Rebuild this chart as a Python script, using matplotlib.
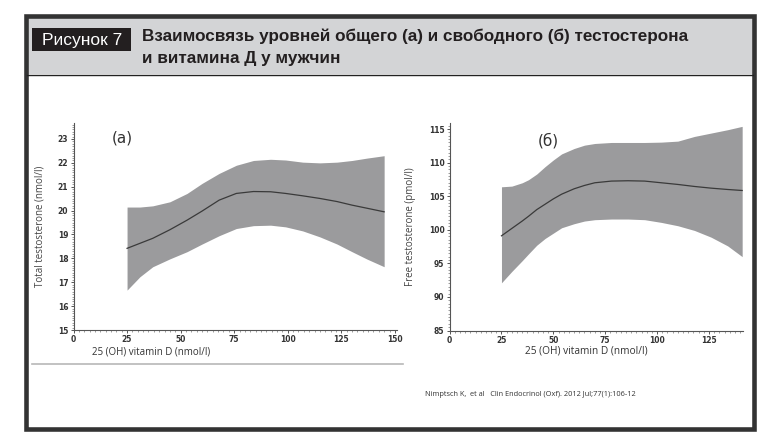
import matplotlib
matplotlib.use("Agg")
import matplotlib.pyplot as plt
from matplotlib.patches import Rectangle
from matplotlib.ticker import MultipleLocator

# panel (a): total testosterone vs 25(OH) vitamin D
vitd_a = [25, 31, 37, 45, 53, 60, 68, 76, 84, 92, 99, 107, 115, 123, 130, 137, 145]
total_t = [18.42, 18.63, 18.84, 19.2, 19.6, 19.98, 20.44, 20.72, 20.8, 20.79, 20.72,
           20.62, 20.51, 20.38, 20.23, 20.1, 19.95]
total_hi = [20.15, 20.15, 20.2, 20.37, 20.72, 21.14, 21.56, 21.9, 22.1, 22.15, 22.12,
            22.03, 22.0, 22.03, 22.1, 22.2, 22.3]
total_lo = [16.67, 17.23, 17.65, 17.98, 18.28, 18.6, 18.95, 19.25, 19.37, 19.39, 19.32,
            19.15, 18.9, 18.6, 18.28, 17.97, 17.65]

# panel (б): free testosterone vs 25(OH) vitamin D
vitd_b = [25, 30, 35, 38, 42, 46, 50, 54, 60, 65, 70, 78, 86, 94, 102, 110, 118, 126, 134, 141]
free_t = [99.1, 100.2, 101.3, 102.0, 103.0, 103.8, 104.6, 105.3, 106.1, 106.6, 107.0, 107.25,
          107.3, 107.25, 107.0, 106.75, 106.45, 106.2, 106.0, 105.85]
free_hi = [106.4, 106.5, 107.0, 107.45, 108.3, 109.4, 110.4, 111.3, 112.1, 112.6, 112.85, 113.0,
           113.0, 113.0, 113.05, 113.2, 113.9, 114.4, 114.9, 115.4]
free_lo = [92.1, 93.8, 95.4, 96.4, 97.7, 98.7, 99.5, 100.3, 100.9, 101.3, 101.5, 101.6,
           101.6, 101.5, 101.1, 100.6, 99.9, 98.9, 97.6, 96.0]

title_tag = "Рисунок 7"
title_line1 = "Взаимосвязь уровней общего (а) и свободного (б) тестостерона"
title_line2 = "и витамина Д у мужчин"
xlabel = "25 (OH) vitamin D (nmol/l)"
citation = "Nimptsch K,  et al   Clin Endocrinol (Oxf). 2012 Jul;77(1):106-12"

W, H = 770, 440
FILL = "#9b9b9d"
LINE = "#3a3a3a"
HEAD_FONT = "Liberation Sans"

fig = plt.figure(figsize=(W / 100, H / 100), dpi=100)
fig.patch.set_facecolor("white")


def px_axes(x0, y0, x1, y1):
    return fig.add_axes([x0 / W, 1 - y1 / H, (x1 - x0) / W, (y1 - y0) / H])


# decoration layer in pixel coordinates
deco = fig.add_axes([0, 0, 1, 1], zorder=-1)
deco.set_xlim(0, W)
deco.set_ylim(H, 0)
deco.axis("off")
deco.add_patch(Rectangle((27, 18), 726, 56.5, facecolor="#d3d4d6", edgecolor="none"))
deco.plot([27, 753], [74.8, 74.8], color="#222222", lw=1)
deco.add_patch(Rectangle((25.5, 16), 728, 413, facecolor="none", edgecolor="#333333", lw=3.3))
deco.add_patch(Rectangle((32, 28), 99, 23, facecolor="#231f20", edgecolor="none"))
deco.text(82, 45, title_tag, color="white", fontsize=12.5, family=HEAD_FONT,
          ha="center", va="baseline")
deco.text(142, 41.5, title_line1, color="#231f20", fontsize=12.3, family=HEAD_FONT,
          fontweight="bold", ha="left", va="baseline")
deco.text(142, 62.5, title_line2, color="#231f20", fontsize=12.3, family=HEAD_FONT,
          fontweight="bold", ha="left", va="baseline")
deco.plot([32, 403], [364, 364], color="#b8b8b8", lw=1.2)
deco.text(425, 395, citation, fontsize=5.3, family="Open Sans", color="#333333",
          ha="left", va="center")


def style_axes(ax, xmajor, ymajor, yminor):
    for side in ("top", "right"):
        ax.spines[side].set_visible(False)
    for side in ("left", "bottom"):
        ax.spines[side].set_color("#555555")
        ax.spines[side].set_linewidth(0.8)
    ax.xaxis.set_major_locator(MultipleLocator(xmajor))
    ax.xaxis.set_minor_locator(MultipleLocator(2.5))
    ax.yaxis.set_major_locator(MultipleLocator(ymajor))
    ax.yaxis.set_minor_locator(MultipleLocator(yminor))
    ax.tick_params(which="major", length=2.5, width=0.7, color="#555555",
                   labelsize=5.5, labelcolor="#333333", pad=1.2)
    ax.tick_params(which="minor", length=1.2, width=0.5, color="#777777")
    for lab in ax.get_xticklabels() + ax.get_yticklabels():
        lab.set_fontweight("bold")
    ax.set_facecolor("none")


# panel (a)
ax1 = px_axes(73.5, 123, 397, 330)
ax1.fill_between(vitd_a, total_lo, total_hi, color=FILL, lw=0)
ax1.plot(vitd_a, total_t, color=LINE, lw=0.9)
ax1.set_xlim(0, 151)
ax1.set_ylim(15, 23.67)
style_axes(ax1, 25, 1, 0.1)
ax1.set_ylabel("Total testosterone (nmol/l)", fontsize=7, family="Open Sans",
               color="#444444", labelpad=9)
ax1.text(92, 352, xlabel, transform=deco.transData, fontsize=7, family="Open Sans",
         color="#333333", ha="left", va="center")
ax1.text(122, 138, "(a)", transform=deco.transData, fontsize=11, family="DejaVu Sans",
         color="#333333", ha="center", va="center")

# panel (б)
ax2 = px_axes(449.6, 123, 743, 330.5)
ax2.fill_between(vitd_b, free_lo, free_hi, color=FILL, lw=0)
ax2.plot(vitd_b, free_t, color=LINE, lw=0.9)
ax2.set_xlim(0, 141.4)
ax2.set_ylim(85, 115.9)
style_axes(ax2, 25, 5, 0.5)
ax2.set_ylabel("Free testosterone (pmol/l)", fontsize=7, family="Open Sans",
               color="#444444", labelpad=9)
ax2.text(586, 351, xlabel, transform=deco.transData, fontsize=7.3, family="Open Sans",
         color="#333333", ha="center", va="center")
ax2.text(548, 141, "(б)", transform=deco.transData, fontsize=11, family="DejaVu Sans",
         color="#333333", ha="center", va="center")

fig.savefig("out.png", dpi=100)
